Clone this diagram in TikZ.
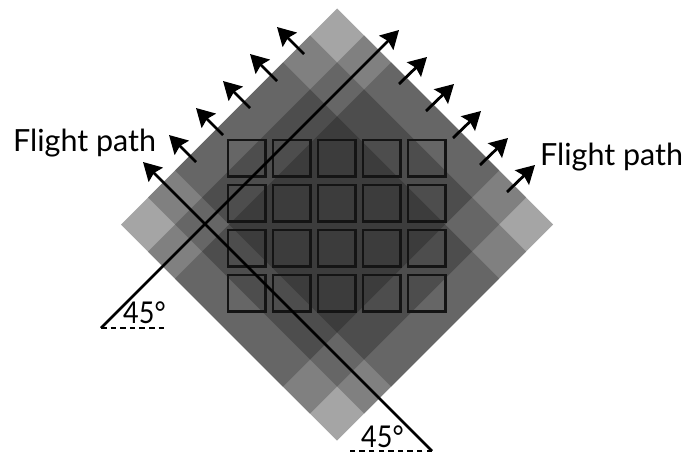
\documentclass[tikz,border=0pt]{standalone}
\usepackage{fontspec}
\setmainfont{Lato}
\newfontfamily\angfont[FakeStretch=0.9]{Lato}
\usetikzlibrary{arrows.meta}
\newcommand{\diarect}[3]{%
  \fill[#3] ({337-#1/4-#2/4},{224.5-#1/4+#2/4}) -- ({337-#1/4+#2/4},{224.5-#1/4-#2/4})
    -- ({337+#1/4+#2/4},{224.5+#1/4-#2/4}) -- ({337+#1/4-#2/4},{224.5+#1/4+#2/4}) -- cycle;}
\definecolor{lvA}{gray}{0.647}
\definecolor{lvB}{gray}{0.502}
\definecolor{lvC}{gray}{0.400}
\definecolor{lvD}{gray}{0.302}
\definecolor{lvE}{gray}{0.235}
\tikzset{
  shotarrow/.style={line width=2.8pt,-{Stealth[length=18pt,width=20pt,inset=2.5pt]}},
  patharrow/.style={line width=2.7pt,-{Stealth[length=18pt,width=20pt,inset=2.5pt]}},
  basedash/.style={line width=2.6pt,dash pattern=on 5.5pt off 4.1pt},
  framebox/.style={draw=black!92,line width=2.6pt},
  flabel/.style={font=\fontsize{30.5}{30.5}\selectfont,anchor=base west,inner sep=0pt,text=black},
  anglelabel/.style={font=\angfont\fontsize{30}{30}\selectfont,anchor=base west,inner sep=0pt,text=black}
}
\begin{document}
\begin{tikzpicture}[x=1pt,y=-1pt]
\useasboundingbox (0,0) rectangle (690,460);
% overlapping coverage: nested rectangles in rotated coordinates
\diarect{432}{432}{lvA}
\diarect{432}{324}{lvB}
\diarect{324}{432}{lvB}
\diarect{432}{216}{lvC}
\diarect{324}{324}{lvC}
\diarect{216}{432}{lvC}
\diarect{324}{216}{lvD}
\diarect{216}{324}{lvD}
\diarect{216}{216}{lvE}
% frames
\foreach \cx in {228,273,318,363,408}
  \foreach \cy in {140,185,230,275}
    \draw[framebox] (\cx,\cy) rectangle ++(37.3,36.7);
% long flight paths
\coordinate (na) at (101,328);
\coordinate (nb) at (399,30);
\coordinate (nc) at (432,451);
\coordinate (nd) at (143,162);
\coordinate (ne) at (167,328);
\coordinate (nf) at (347,451);
\draw[patharrow] (na) -- (nb);
\draw[patharrow] (nc) -- (nd);
\draw[basedash] (na) -- (ne);
\draw[basedash] (nc) -- (nf);
% short arrows
\foreach \i in {0,1,2,3,4}{
  \coordinate (ls\i) at ({304-27*\i},{54+27*\i});
  \coordinate (lt\i) at ({277-27*\i},{27+27*\i});
  \draw[shotarrow] (ls\i) -- (lt\i);
  \coordinate (rs\i) at ({399+27*\i},{84+27*\i});
  \coordinate (rt\i) at ({427+27*\i},{57+27*\i});
  \draw[shotarrow] (rs\i) -- (rt\i);
}
% labels
\node[flabel] (lbA) at (13,151) {Flight path};
\node[flabel] (lbB) at (540,165) {Flight path};
\node[anglelabel] (lbC) at (123,323) {45°};
\node[anglelabel] (lbD) at (361,447) {45°};
\end{tikzpicture}
\end{document}
